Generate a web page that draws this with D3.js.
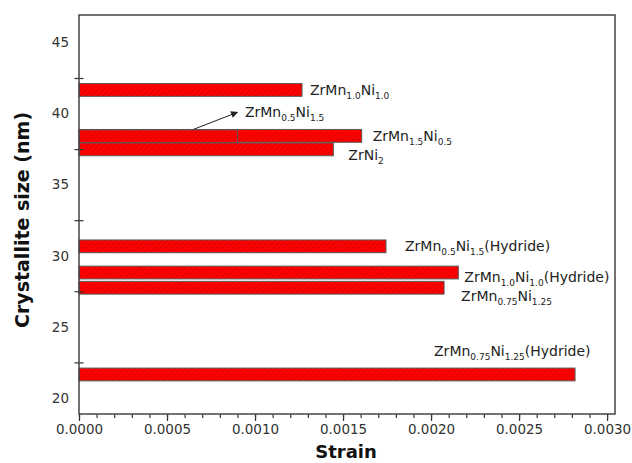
<!DOCTYPE html>
<html>
<head>
<meta charset="utf-8">
<script src="https://cdn.jsdelivr.net/npm/d3@7"></script>
<style>
  html, body { margin: 0; padding: 0; background: #fff; }
  svg { display: block; font-family: "DejaVu Sans", sans-serif; }
</style>
</head>
<body>
<svg id="chart" width="632" height="463"></svg>
<script>
// ---- data ----
const compounds = [
  "ZrMn_{1.0}Ni_{1.0}",
  "ZrMn_{1.5}Ni_{0.5}",
  "ZrMn_{0.5}Ni_{1.5}",
  "ZrNi_{2}",
  "ZrMn_{0.5}Ni_{1.5}(Hydride)",
  "ZrMn_{1.0}Ni_{1.0}(Hydride)",
  "ZrMn_{0.75}Ni_{1.25}",
  "ZrMn_{0.75}Ni_{1.25}(Hydride)"
];
const strain = [0.001267, 0.001606, 0.0009, 0.001445, 0.001744, 0.002155, 0.002074, 0.002818];
const crystalliteSize = [41.66, 38.43, 38.40, 37.48, 30.66, 28.82, 27.75, 21.65];
const xTickLabels = [0, 0.0005, 0.001, 0.0015, 0.002, 0.0025, 0.003];
const yTickLabels = [20, 25, 30, 35, 40, 45];
const yTickMarks = [22.5, 27.5, 32.5, 37.5, 42.5];

// ---- layout ----
const mLeft = 79, mRight = 615, mTop = 15, mBottom = 414;
const barThickness = 0.9; // in data units (nm)
// label offsets from bar end / bar centre, in px
const labelOffsets = [[8, 5], [11, 5], [7.5, -19.5], [15, 10.6], [19, 4.4], [6, 9], [17, 13.7], [-141, -18]];

const svg = d3.select("#chart");
const x = d3.scaleLinear().domain([0, 0.003045]).range([mLeft, mRight]);
const y = d3.scaleLinear().domain([18.87, 46.93]).range([mBottom, mTop]);

// hatch pattern
const defs = svg.append("defs");
const pat = defs.append("pattern")
  .attr("id", "hatch").attr("patternUnits", "userSpaceOnUse")
  .attr("width", 4).attr("height", 4)
  .attr("patternTransform", "rotate(45)");
pat.append("rect").attr("width", 4).attr("height", 4).attr("fill", "#ff0000");
pat.append("line").attr("x1", 0).attr("y1", 0).attr("x2", 0).attr("y2", 4)
  .attr("stroke", "#c80000").attr("stroke-width", 1.2);

// bars
const data = compounds.map((c, i) => ({ name: c, s: strain[i], v: crystalliteSize[i], off: labelOffsets[i] }));
const bh = y(0) - y(barThickness);

svg.append("g").selectAll("rect").data(data).join("rect")
  .attr("x", x(0))
  .attr("y", d => y(d.v) - bh / 2)
  .attr("width", d => x(d.s) - x(0))
  .attr("height", bh)
  .attr("fill", "url(#hatch)")
  .attr("stroke", "#5a5a5a")
  .attr("stroke-width", 1);

// labels with subscripts
function addLabel(g, str) {
  const parts = str.split(/(_\{[^}]*\})/).filter(p => p.length);
  let sub = false;
  parts.forEach(p => {
    if (p.startsWith("_{")) {
      g.append("tspan").text(p.slice(2, -1)).attr("font-size", 9).attr("dy", 4);
      sub = true;
    } else {
      const t = g.append("tspan").text(p);
      if (sub) { t.attr("dy", -4); sub = false; }
    }
  });
}
const lbl = svg.append("g").attr("font-size", 14).attr("fill", "#222");
data.forEach(d => {
  const t = lbl.append("text")
    .attr("x", x(d.s) + d.off[0])
    .attr("y", y(d.v) + d.off[1]);
  addLabel(t, d.name);
});

// arrow pointing to ZrMn0.5Ni1.5 label
defs.append("marker").attr("id", "arr").attr("viewBox", "0 0 10 10")
  .attr("refX", 9).attr("refY", 5).attr("markerWidth", 9).attr("markerHeight", 7)
  .attr("markerUnits", "userSpaceOnUse").attr("orient", "auto")
  .append("path").attr("d", "M0,0 L10,5 L0,10 z").attr("fill", "#222");
const sb = data[2];
svg.append("line")
  .attr("x1", x(sb.s) - 44).attr("y1", y(sb.v) - bh / 2 - 0.5)
  .attr("x2", x(sb.s)).attr("y2", y(sb.v) - 24)
  .attr("stroke", "#222").attr("stroke-width", 1)
  .attr("marker-end", "url(#arr)");

// x axis
const xAxis = svg.append("g").attr("transform", `translate(0,${mBottom})`)
  .call(d3.axisBottom(x).tickValues(xTickLabels).tickFormat(d3.format(".4f"))
    .tickSize(7).tickPadding(3));
svg.append("g").attr("transform", `translate(0,${mBottom})`)
  .call(d3.axisBottom(x).tickValues(d3.range(0, 31).map(i => i * 0.0001)).tickFormat("").tickSize(4))
  .select(".domain").remove();

// y axis labels
const yAxis = svg.append("g").attr("transform", `translate(${mLeft},0)`)
  .call(d3.axisLeft(y).tickValues(yTickLabels).tickFormat(d3.format("d")).tickSize(0).tickPadding(10));
yAxis.select(".domain").remove();
// y tick marks crossing axis
svg.append("g").attr("transform", `translate(${mLeft},0)`)
  .call(d3.axisLeft(y).tickValues(yTickMarks).tickFormat("").tickSize(4.5))
  .select(".domain").remove();
svg.append("g").attr("transform", `translate(${mLeft},0)`)
  .call(d3.axisRight(y).tickValues(yTickMarks).tickFormat("").tickSize(4.5))
  .select(".domain").remove();

svg.selectAll(".tick text").attr("font-size", 13.5).attr("fill", "#333")
  .attr("font-family", "DejaVu Sans, sans-serif");
svg.selectAll(".tick line").attr("stroke", "#333").attr("stroke-width", 1.2);
xAxis.select(".domain").remove();

// frame
svg.append("rect").attr("x", mLeft).attr("y", mTop)
  .attr("width", mRight - mLeft).attr("height", mBottom - mTop)
  .attr("fill", "none").attr("stroke", "#444").attr("stroke-width", 1.5);

// axis titles
svg.append("text").attr("x", 346).attr("y", 458).attr("text-anchor", "middle")
  .attr("font-size", 18).attr("font-weight", "bold").attr("fill", "#111").text("Strain");
svg.append("text").attr("transform", "translate(29,220) rotate(-90)").attr("text-anchor", "middle")
  .attr("font-size", 19).attr("font-weight", "bold").attr("fill", "#111").text("Crystallite size (nm)");
</script>
</body>
</html>
